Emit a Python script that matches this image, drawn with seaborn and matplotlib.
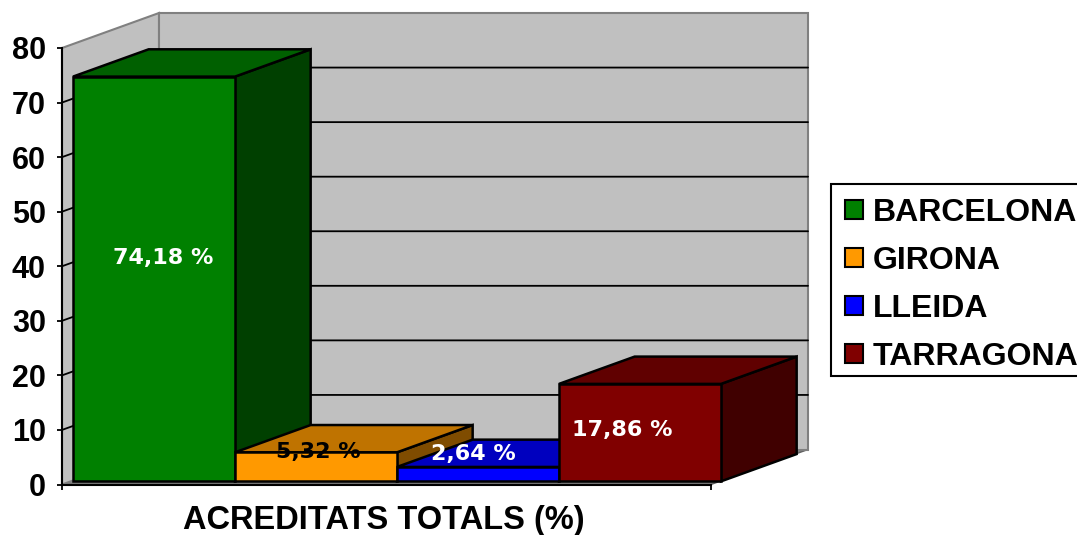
import pandas as pd
import seaborn as sns
import matplotlib.pyplot as plt
from matplotlib.patches import Polygon, Rectangle

provinces = ["BARCELONA", "GIRONA", "LLEIDA", "TARRAGONA"]
values = [74.18, 5.32, 2.64, 17.86]
value_labels = ["74,18 %", "5,32 %", "2,64 %", "17,86 %"]
y_ticks = [0, 10, 20, 30, 40, 50, 60, 70, 80]

front_colors = ["#008000", "#FF9900", "#0000FF", "#800000"]
top_colors = ["#006000", "#BF7300", "#0000BF", "#600000"]
side_colors = ["#004000", "#7F4C00", "#000080", "#400000"]

# label nudges in pixels from the middle of each bar
label_nudge = [(9, 21), (2, 15), (-5, 20), (-18, 3)]

W, H = 1077, 535
sns.set_theme(style="white", rc={"text.color": "black", "axes.labelcolor": "black",
                                 "xtick.color": "black", "ytick.color": "black"})
plt.rcParams["font.family"] = ["Liberation Sans", "DejaVu Sans"]

fig = plt.figure(figsize=(W / 100, H / 100), dpi=100)
ax = fig.add_axes([62 / W, 1 - 484.5 / H, (711 - 62) / W, (484.5 - 48) / H])

df = pd.DataFrame({"province": provinces, "value": values})

# fake 3D: how far the back wall sits from the front plane, in data units
cat_px = 162
val_px = (484.5 - 48) / 80
depth_x = 97 / cat_px
depth_y = 35 / val_px
inset = 0.09
bar_depth = 0.78
x0 = -0.5 - 11 / cat_px
x1 = x0 + (711 - 62) / cat_px
floor = depth_y * inset

sns.barplot(data=df, x="province", y="value", hue="province", order=provinces,
            palette=dict(zip(provinces, front_colors)), width=1, dodge=False, saturation=1,
            bottom=floor, edgecolor="black", linewidth=1.8, legend=False, ax=ax)
bars = sorted(ax.patches, key=lambda p: p.get_x())
ax.set_xlim(x0, x1)
ax.set_ylim(0, 80)
ax.patch.set_alpha(0)

# walls and floor
ax.add_patch(Polygon([(x0, 0), (x0 + depth_x, depth_y), (x1 + depth_x, depth_y), (x1, 0)],
                     closed=True, fc="#808080", ec="#606060", lw=1, zorder=1, clip_on=False))
ax.add_patch(Polygon([(x0, 0), (x0, 80), (x0 + depth_x, 80 + depth_y), (x0 + depth_x, depth_y)],
                     closed=True, fc="#C0C0C0", ec="#808080", lw=1.5, zorder=1, clip_on=False))
ax.add_patch(Polygon([(x0 + depth_x, depth_y), (x0 + depth_x, 80 + depth_y),
                      (x1 + depth_x, 80 + depth_y), (x1 + depth_x, depth_y)],
                     closed=True, fc="#C0C0C0", ec="#808080", lw=1.5, zorder=1, clip_on=False))

# gridlines run along the left wall and across the back wall
for t in y_ticks[1:-1]:
    ax.plot([x0, x0 + depth_x, x1 + depth_x], [t, t + depth_y, t + depth_y],
            color="black", lw=1.3, zorder=2, clip_on=False)

# side and top faces of each bar, painted left to right
for i, bar in enumerate(bars):
    left = bar.get_x()
    right = left + bar.get_width()
    base = bar.get_y()
    top = base + bar.get_height()
    dx = depth_x * bar_depth
    dy = depth_y * bar_depth
    z = 3 + i
    ax.add_patch(Polygon([(right, base), (right, top), (right + dx, top + dy), (right + dx, base + dy)],
                         closed=True, fc=side_colors[i], ec="black", lw=1.8, zorder=z, clip_on=False))
    ax.add_patch(Polygon([(left, top), (right, top), (right + dx, top + dy), (left + dx, top + dy)],
                         closed=True, fc=top_colors[i], ec="black", lw=1.8, zorder=z, clip_on=False))
    bar.set_zorder(z + 0.5)
    bar.set_clip_on(False)
    ink = "black" if provinces[i] == "GIRONA" else "white"
    ax.annotate(value_labels[i], xy=(bar.get_x() + 0.5, base + bar.get_height() / 2),
                xytext=(label_nudge[i][0] * 0.72, label_nudge[i][1] * 0.72),
                textcoords="offset points", ha="center", va="center", color=ink,
                fontsize=16, fontweight="bold", family="DejaVu Sans", zorder=20)

ax.set_yticks(y_ticks)
ax.set_xticks([x0, x1])
ax.set_xticklabels(["", ""])
ax.tick_params(axis="y", length=3.6, width=1.3, pad=8, left=True, labelsize=22)
ax.tick_params(axis="x", length=3.6, width=1.3, bottom=True)
for lab in ax.get_yticklabels():
    lab.set_fontweight("bold")
ax.set_ylabel("")
ax.set_xlabel("")
ax.text(383.5 / W, 1 - 520 / H, "ACREDITATS TOTALS (%)", transform=fig.transFigure, ha="center",
        va="center", fontsize=23.5, fontweight="bold")

sns.despine(ax=ax, top=True, right=True)
for side in ["left", "bottom"]:
    ax.spines[side].set_color("black")
    ax.spines[side].set_linewidth(1.5)
    ax.spines[side].set_zorder(30)

# legend box drawn by hand, the automatic frame comes out too tall
fig.add_artist(Rectangle((831 / W, 1 - 376 / H), 260 / W, 192 / H, transform=fig.transFigure,
                         fc="white", ec="black", lw=1.5))
handles = [Polygon([(0, 0)], closed=True, fc=c, ec="black", lw=1.5) for c in front_colors]
leg = fig.legend(handles, provinces, loc="upper left", bbox_to_anchor=(831 / W, 1 - 184 / H),
                 bbox_transform=fig.transFigure, frameon=False, borderaxespad=0, borderpad=0.44,
                 handlelength=0.56, handleheight=0.56, handletextpad=0.3, labelspacing=0.56,
                 prop={"family": "Liberation Sans", "weight": "bold", "size": 23})

fig.savefig("out.png", dpi=100)
